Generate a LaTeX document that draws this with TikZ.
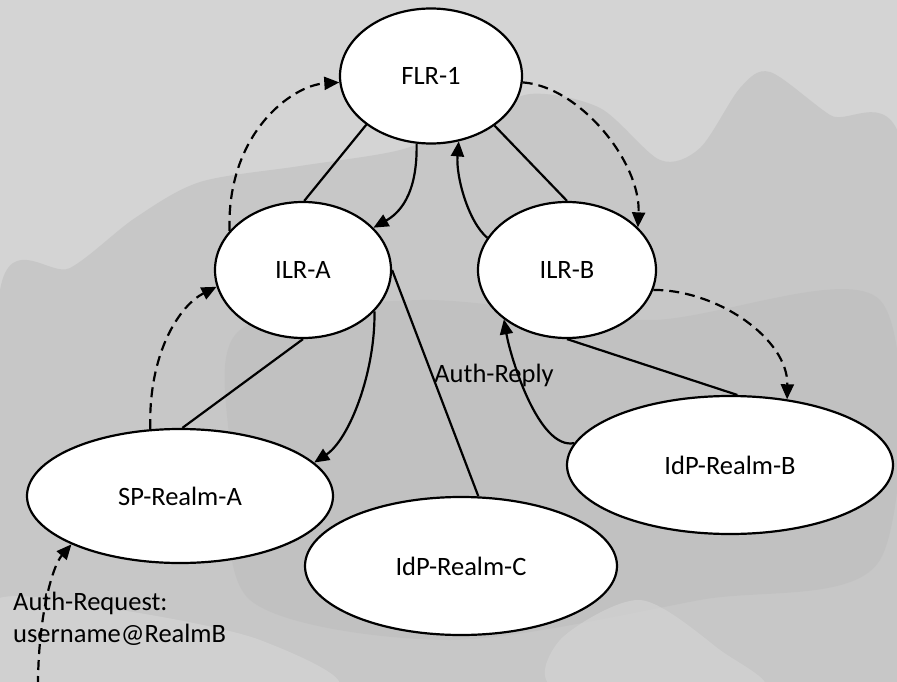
\documentclass[tikz,border=0pt]{standalone}
\usepackage{fontspec}
\setmainfont{Carlito}
\usetikzlibrary{arrows.meta,shapes.geometric}
\definecolor{bgtop}{HTML}{D4D4D4}
\definecolor{bgtree}{HTML}{C7C7C7}
\definecolor{bgdark}{HTML}{BEBEBE}
\definecolor{bglight}{HTML}{D3D3D3}
\begin{document}
\begin{tikzpicture}[x=1pt,y=-1pt,
  oval/.style={ellipse,draw,fill=white,line width=2.2pt,inner sep=0pt,font=\fontsize{26.5}{31}\selectfont},
  link/.style={line width=2.2pt},
  flow/.style={line width=2.2pt,-{Triangle[length=15pt,width=13pt]}},
  dflow/.style={flow,dash pattern=on 10pt off 6pt},
  lbl/.style={font=\fontsize{26.5}{32}\selectfont,inner sep=0pt}]
\useasboundingbox (0,0) rectangle (897,682);
% background
\begin{scope}
\clip (0,0) rectangle (897,682);
\fill[bgtop] (0,0) rectangle (897,682);
\fill[bgtree] plot[smooth cycle] coordinates {(0,290) (70,268) (135,218) (200,182) (300,166) (400,150) (470,122) (530,94) (600,108) (660,160) (700,148) (740,88) (770,72) (830,115) (905,160) (905,690) (-5,690)};
\fill[bgdark, opacity=0.6] plot[smooth cycle] coordinates {(240,330) (420,300) (650,320) (880,300) (880,560) (700,600) (450,640) (250,600) (230,450)};
\fill[bglight, opacity=0.8] plot[smooth cycle] coordinates {(-5,600) (120,610) (260,640) (330,690) (-5,690)};
\fill[bglight, opacity=0.7] plot[smooth cycle] coordinates {(560,640) (640,600) (720,650) (760,690) (560,690)};
\end{scope}

% nodes
\node[oval,minimum width=182pt,minimum height=135pt] (flr) at (431,76) {FLR-1};
\node[oval,minimum width=176pt,minimum height=136pt] (ilra) at (303,270) {ILR-A};
\node[oval,minimum width=178pt,minimum height=136pt] (ilrb) at (567,270) {ILR-B};
\node[oval,minimum width=306pt,minimum height=134pt] (spa) at (180,496) {SP-Realm-A};
\node[oval,minimum width=326pt,minimum height=138pt] (idpb) at (730,465) {IdP-Realm-B};
\node[oval,minimum width=312pt,minimum height=138pt] (idpc) at (461,566) {IdP-Realm-C};

% labels
\node[lbl] (reply) at (494,375) {Auth-Reply};
\node[lbl,align=left,anchor=west] (reqlbl) at (13,619) {Auth-Request:\\username@RealmB};
\coordinate (reqstart) at (38,686);

% solid links
\draw[link] (flr.217) -- (ilra.89);
\draw[link] (flr.322.6) -- (ilrb.north);
\draw[link] (ilra.south) -- (spa.88);
\draw[link] (ilra.east) -- (idpc.76.4);
\draw[link] (ilrb.south) -- (idpb.84);

% solid arrows
\draw[flow] (flr.258) .. controls +(1,52) and +(25,-14) .. (ilra.31);
\draw[flow] (ilrb.158) .. controls +(-19,-16) and +(-3,35) .. (flr.293);
\draw[flow] (ilra.330) .. controls +(1,61) and +(35,-23) .. (spa.14);
\draw[flow] (idpb.172) .. controls +(-35,7) and +(7,40) .. (ilrb.218);

% dashed arrows
\draw[dflow] (ilra.152) .. controls +(-3,-97) and +(-48,3) .. (flr.184);
\draw[dflow] (flr.356) .. controls +(57,4) and +(3,-65) .. (ilrb.31);
\draw[dflow] (spa.114.4) .. controls +(-2,-78) and +(-36,18) .. (ilra.191);
\draw[dflow] (ilrb.347) .. controls +(65,0) and +(1,-60) .. (idpb.49.8);
\draw[dflow] (reqstart) .. controls +(0,-66) and +(-20,23) .. (spa.204);
\end{tikzpicture}
\end{document}
